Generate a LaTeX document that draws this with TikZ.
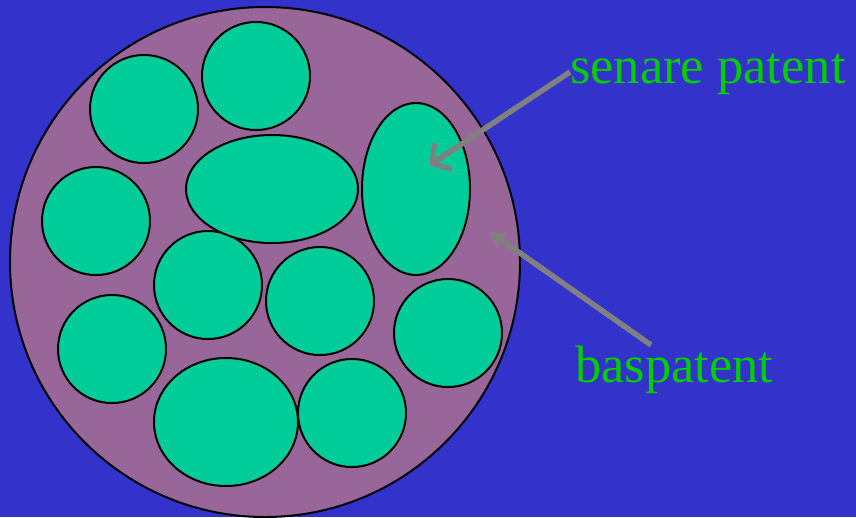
\documentclass[tikz,border=0pt]{standalone}
\usepackage{fontspec}
\setmainfont{Liberation Serif}
\usetikzlibrary{arrows.meta,shapes.geometric}
\definecolor{bgBlue}{RGB}{51,51,204}
\definecolor{discPurple}{RGB}{153,102,153}
\definecolor{cellGreen}{RGB}{0,204,153}
\definecolor{txtGreen}{RGB}{0,204,0}
\definecolor{arrGray}{RGB}{128,128,128}
\begin{document}
\begin{tikzpicture}[
  x=1pt, y=-1pt,
  disc/.style={draw=black, line width=2pt, circle, fill=discPurple, minimum size=510pt, inner sep=0pt},
  cell/.style={draw=black, line width=2pt, fill=cellGreen, inner sep=0pt},
  lab/.style={text=txtGreen, font=\fontsize{52.5}{60}\selectfont, anchor=base west, inner sep=0pt},
  arr/.style={draw=arrGray, line width=5.5pt}
]
  % background
  \fill[bgBlue] (0,0) rectangle (856,517);
  \useasboundingbox (0,0) rectangle (856,517);

  % the big disc
  \node[disc] (big) at (265,262) {};

  % round cells
  \foreach \n/\x/\y in {a/144/109, b/256/76, c/96/221, d/208/285, e/320/301,
                       f/112/349, g/448/333, h/352/413}
    \node[cell, circle, minimum size=108pt] (c\n) at (\x,\y) {};

  % oval cells
  \node[cell, ellipse, minimum width=172pt, minimum height=108pt] (wide) at (272,189) {};
  \node[cell, ellipse, minimum width=108pt, minimum height=172pt] (tall) at (416,189) {};
  \node[cell, ellipse, minimum width=144pt, minimum height=128pt] (low) at (226,422) {};

  % labels
  \node[lab] (sen) at (570,83) {senare patent};
  \node[lab] (bas) at (575,382) {baspatent};

  \coordinate (senFrom) at (570,72);
  \coordinate (senTo) at (430,165);
  \coordinate (basFrom) at (651,345);
  \coordinate (basTo) at (490,232);

  \draw[arr, -{Straight Barb[length=12pt, width=28pt, line width=5pt, round]}] (senFrom) -- (senTo);
  \draw[arr, -{Triangle[length=14pt, width=17pt]}] (basFrom) -- (basTo);
\end{tikzpicture}
\end{document}
